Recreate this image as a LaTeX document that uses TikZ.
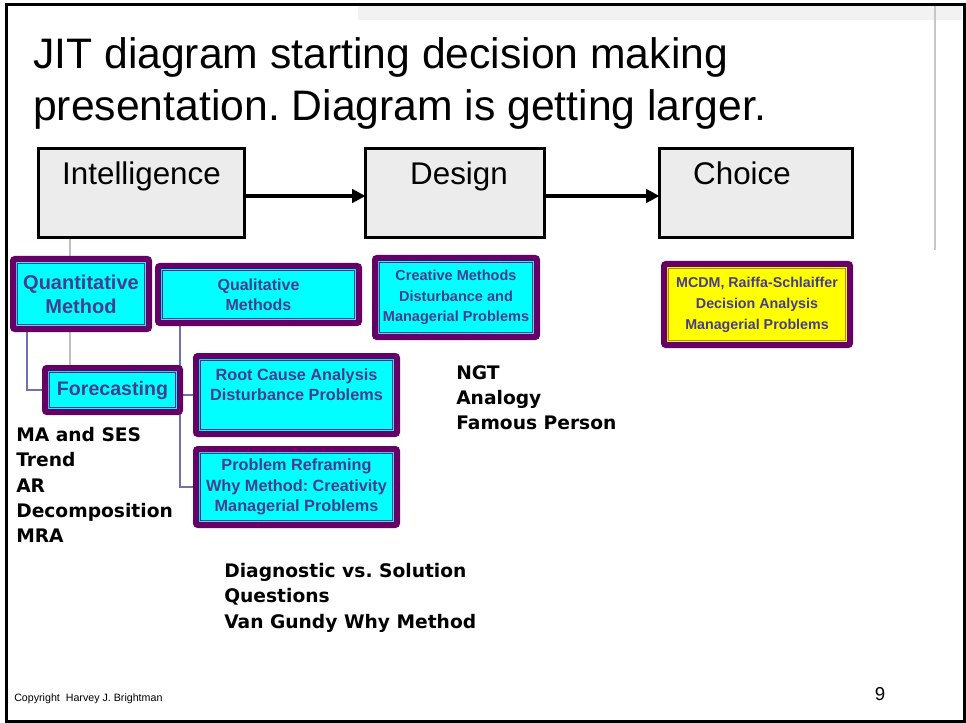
\documentclass[tikz,border=0pt]{standalone}
\usepackage{fontspec}
\setmainfont{Liberation Sans}
\newfontfamily\listfont{DejaVu Sans}
\usetikzlibrary{arrows.meta,backgrounds}
\frenchspacing

\definecolor{boxpurple}{RGB}{102,0,102}
\definecolor{framepurple}{RGB}{90,40,130}
\definecolor{boxcyan}{RGB}{0,255,255}
\definecolor{boxyellow}{RGB}{255,255,0}
\definecolor{labelblue}{RGB}{72,61,139}
\definecolor{linkblue}{RGB}{112,112,176}
\definecolor{stagegray}{RGB}{236,236,236}
\definecolor{goldline}{RGB}{190,130,40}

% one unit of the drawing grid
\newdimen\pxu \pxu=0.75pt

% thin rule just inside the heavy border of a method box
\newcommand{\innerframe}[2]{%
  \draw[line width=0.75pt, draw=#2]
    ([shift={(4.5,4.5)}]#1.north west) rectangle ([shift={(-4.5,-4.5)}]#1.south east);}

\tikzset{
  stage/.style={draw=black, line width=2.6pt, fill=stagegray, inner sep=0pt, outer sep=0pt,
    font=\fontsize{23.5pt}{28pt}\selectfont, text height=23\pxu, text depth=39\pxu},
  method/.style={draw=boxpurple, line width=4.5pt, fill=boxcyan, rounded corners=1.5pt,
    inner sep=0pt, outer sep=0pt, align=center, text=labelblue},
  pick/.style={method, fill=boxyellow},
  flow/.style={line width=2.3pt, -{Triangle[length=10pt,width=10pt]}},
  link/.style={draw=linkblue, line width=1pt},
  trunk/.style={draw=gray!50, line width=1.1pt},
  notes/.style={anchor=north west, inner sep=0pt, align=left,
    font=\listfont\bfseries\fontsize{14pt}{19pt}\selectfont},
  heading/.style={anchor=base west, inner sep=0pt, font=\fontsize{32pt}{39pt}\selectfont},
}

\begin{document}
\begin{tikzpicture}[x=0.75pt, y=-0.75pt]
\useasboundingbox (0,0) rectangle (966,723);

% slide title
\node[heading] (title1) at (33,69) {JIT diagram starting decision making};
\node[heading] (title2) at (33,121) {presentation. Diagram is getting larger.};

% decision phases
\node[stage, minimum width=206\pxu, minimum height=89\pxu] (intel) at (141.5,193) {Intelligence};
\node[stage, minimum width=179\pxu, minimum height=89\pxu] (design) at (455,193) {\hspace*{6pt}Design};
\node[stage, minimum width=193\pxu, minimum height=89\pxu] (choice) at (756,193) {Choice\hspace*{21pt}};

\draw[flow] ([yshift=-2.25pt]intel.east) -- ([yshift=-2.25pt]design.west);
\draw[flow] ([yshift=-2.25pt]design.east) -- ([yshift=-2.25pt]choice.west);

% method boxes
\node[method, minimum width=136\pxu, minimum height=70\pxu,
  font=\bfseries\fontsize{15pt}{18pt}\selectfont] (quant) at (81,294) {Quantitative\\Method};
\node[method, minimum width=201\pxu, minimum height=57\pxu,
  font=\bfseries\fontsize{12pt}{15pt}\selectfont] (qual) at (258.5,294.5) {Qualitative\\Methods};
\node[method, minimum width=162\pxu, minimum height=79\pxu,
  font=\bfseries\fontsize{10.9pt}{15.4pt}\selectfont] (creative) at (456,297.5)
  {Creative Methods\\Disturbance and\\Managerial Problems};
\node[pick, minimum width=186\pxu, minimum height=81\pxu,
  font=\bfseries\fontsize{10.7pt}{15.75pt}\selectfont] (mcdm) at (757,304.5)
  {MCDM, Raiffa-Schlaiffer\\Decision Analysis\\Managerial Problems};
\node[method, minimum width=135\pxu, minimum height=44\pxu,
  font=\bfseries\fontsize{14.7pt}{17pt}\selectfont] (fc) at (112.5,390) {Forecasting};
\node[method, minimum width=201\pxu, minimum height=78\pxu,
  font=\bfseries\fontsize{12.2pt}{15pt}\selectfont] (root) at (296.5,395)
  {Root Cause Analysis\\Disturbance Problems\\\mbox{}};
\node[method, minimum width=201\pxu, minimum height=76\pxu,
  font=\bfseries\fontsize{12.2pt}{15.4pt}\selectfont] (reframe) at (296.5,487)
  {Problem Reframing\\Why Method: Creativity\\Managerial Problems};

\innerframe{quant}{framepurple}
\innerframe{qual}{framepurple}
\innerframe{creative}{framepurple}
\innerframe{mcdm}{goldline}
\innerframe{fc}{framepurple}
\innerframe{root}{framepurple}
\innerframe{reframe}{framepurple}

% technique lists
\node[notes] (fcnotes) at (16,427) {MA and SES\\Trend\\AR\\Decomposition\\MRA};
\node[notes] (designnotes) at (456,365) {NGT\\Analogy\\Famous Person};
\node[notes] (reframenotes) at (224,563) {Diagnostic vs. Solution\\Questions\\Van Gundy Why Method};

% footer
\node[anchor=base west, inner sep=0pt, font=\fontsize{8pt}{10pt}\selectfont] (copy) at (14,701)
  {Copyright\ \ Harvey J. Brightman};
\node[anchor=base, inner sep=0pt, font=\fontsize{14pt}{16pt}\selectfont] (pageno) at (880,700) {9};

\begin{pgfonlayer}{background}
  % slide frame and header band
  \fill[gray!10] (358,6) rectangle (962,20);
  \draw[gray!45, line width=1.1pt] (935,6) -- (935,250);
  \draw[line width=2.25pt] (6.5,4.5) rectangle (964,721.5);
  % tree connectors
  \coordinate (ig) at ([shift={(31.5,0)}]intel.south west);
  \draw[trunk] (ig) -- (ig |- fc.north);
  \coordinate (qb) at ([shift={(14,0)}]quant.south west);
  \draw[link] (qb) |- (fc.west);
  \coordinate (qlb) at ([shift={(22,0)}]qual.south west);
  \draw[link] (qlb) |- (reframe.west);
  \draw[link] (qlb |- root.west) -- (root.west);
\end{pgfonlayer}
\end{tikzpicture}
\end{document}
